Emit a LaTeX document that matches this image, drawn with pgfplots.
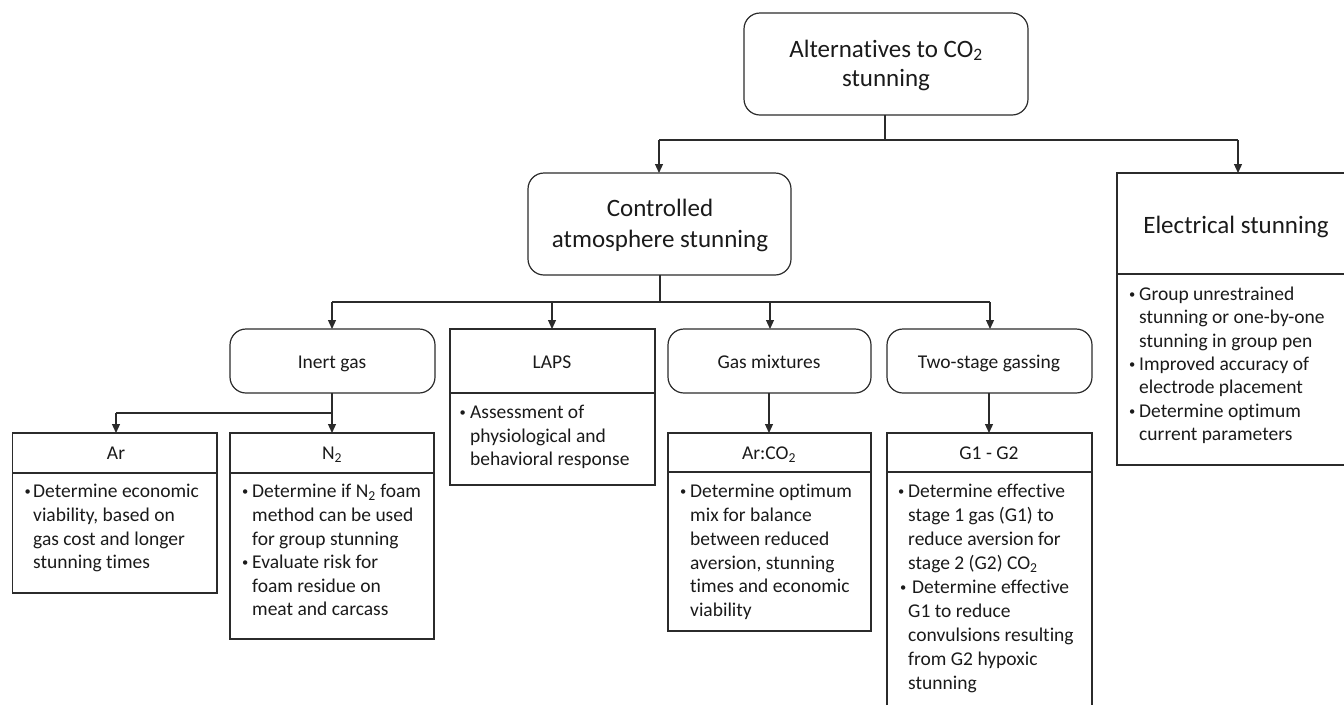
\documentclass[border=0pt]{standalone}
\usepackage{pgfplots}
\pgfplotsset{compat=1.18}
\usepackage{fontspec}
\setmainfont{Carlito}[Ligatures=NoCommon]
\usetikzlibrary{arrows.meta}
\definecolor{ln}{HTML}{2B2B2B}
\definecolor{tx}{HTML}{1A1A1A}
\newcommand\tfont{\fontsize{25}{30}\selectfont}
\newcommand\sfont{\fontsize{19.5}{23.5}\selectfont}
% big centred title line
\newcommand\ttl[3]{\node[anchor=base,inner sep=0pt,font=\tfont,text=tx] at (axis cs:#1,#2) {#3};}
% small centred title line
\newcommand\stl[3]{\node[anchor=base,inner sep=0pt,font=\sfont,text=tx] at (axis cs:#1,#2) {#3};}
% bullet text line (left aligned)
\newcommand\bln[3]{\node[anchor=base west,inner sep=0pt,font=\sfont,text=tx] at (axis cs:#1,#2) {#3};}
% bullet dot (small, as in the source)
\newcommand\bdot[2]{\node[anchor=base west,inner sep=0pt,text=tx] at (axis cs:#1,#2) {\raisebox{1.8pt}{\fontsize{12.5}{12.5}\selectfont\textbullet}};}
\begin{document}
\begin{tikzpicture}
\begin{axis}[name=ax,
  width=1344pt, height=705pt, scale only axis,
  xmin=0, xmax=1344, ymin=0, ymax=705, y dir=reverse,
  hide axis, clip=false]
\tikzset{box/.style={draw=ln,line width=1.2pt},
         rbox/.style={draw=ln,line width=1.2pt,rounded corners=16pt},
         con/.style={draw=ln,line width=1.2pt},
         arr/.style={draw=ln,line width=1.2pt,-{Triangle[length=9pt,width=8pt]}}}

% ---------- boxes ----------
\draw[rbox] (744,13) rectangle (1028,115);
\draw[rbox] (528,173) rectangle (791,275);
\draw[box] (1344,173) -- (1117,173) -- (1117,465) -- (1344,465);
\draw[box] (1117,274) -- (1344,274);

\draw[rbox] (230,329) rectangle (435,393);
\draw[box] (450,329) rectangle (655,485);
\draw[box] (450,393) -- (655,393);
\draw[rbox] (668,329) rectangle (871,393);
\draw[rbox] (887,329) rectangle (1092,393);

\draw[box] (12.7,433) rectangle (217,593);
\draw[box] (12.7,473) -- (217,473);
\draw[box] (230,433) rectangle (434,639);
\draw[box] (230,473) -- (434,473);
\draw[box] (668,433) rectangle (871,631);
\draw[box] (668,472) -- (871,472);
\draw[box] (887,705) -- (887,433) -- (1092,433) -- (1092,705);
\draw[box] (887,472) -- (1092,472);

% ---------- connectors ----------
\draw[con] (885,115) -- (885,140);
\draw[con] (659,140) -- (1238,140);
\draw[arr] (659,140) -- (659,173);
\draw[arr] (1238,140) -- (1238,173);

\draw[con] (660,275) -- (660,302);
\draw[con] (332,302) -- (990,302);
\draw[arr] (332,302) -- (332,329);
\draw[arr] (552,302) -- (552,329);
\draw[arr] (770,302) -- (770,329);
\draw[arr] (990,302) -- (990,329);

\draw[arr] (332,393) -- (332,433);
\draw[con] (116,413) -- (332,413);
\draw[arr] (116,413) -- (116,433);
\draw[arr] (769,393) -- (769,433);
\draw[arr] (989,393) -- (989,433);

% ---------- titles ----------
\ttl{886}{57}{Alternatives to CO\textsubscript{2}}
\ttl{886}{86}{stunning}
\ttl{660}{216}{Controlled}
\ttl{660}{247}{atmosphere stunning}
\ttl{1236}{233}{Electrical stunning}

\stl{332}{368}{Inert gas}
\stl{552}{368}{LAPS}
\stl{769}{368}{Gas mixtures}
\stl{989}{368}{Two-stage gassing}

\stl{116}{459}{Ar}
\stl{332}{459}{N\textsubscript{2}}
\stl{769}{459}{Ar:CO\textsubscript{2}}
\stl{989}{459}{G1 - G2}

% ---------- Electrical stunning ----------
\bdot{1129}{300}
\bln{1139}{300}{Group unrestrained}
\bln{1139}{323}{stunning or one-by-one}
\bln{1139}{347}{stunning in group pen}
\bdot{1129}{370}
\bln{1139}{370}{Improved accuracy of}
\bln{1139}{393}{electrode placement}
\bdot{1129}{417}
\bln{1139}{417}{Determine optimum}
\bln{1139}{440}{current parameters}

% ---------- LAPS ----------
\bdot{459.5}{418}
\bln{470}{418}{Assessment of}
\bln{470}{442}{physiological and}
\bln{470}{465}{behavioral response}

% ---------- Ar ----------
\bdot{24.5}{497}
\bln{33}{497}{Determine economic}
\bln{33}{521}{viability, based on}
\bln{33}{545}{gas cost and longer}
\bln{33}{568}{stunning times}

% ---------- N2 ----------
\bdot{242}{497}
\bln{252}{497}{Determine if N\textsubscript{2} foam}
\bln{252}{521}{method can be used}
\bln{252}{545}{for group stunning}
\bdot{242}{568}
\bln{252}{568}{Evaluate risk for}
\bln{252}{592}{foam residue on}
\bln{252}{615}{meat and carcass}

% ---------- Ar:CO2 ----------
\bdot{680}{497}
\bln{690}{497}{Determine optimum}
\bln{690}{521}{mix for balance}
\bln{690}{545}{between reduced}
\bln{690}{569}{aversion, stunning}
\bln{690}{592}{times and economic}
\bln{690}{616}{viability}

% ---------- G1 - G2 ----------
\bdot{898}{497}
\bln{908}{497}{Determine effective}
\bln{908}{521}{stage 1 gas (G1) to}
\bln{908}{545}{reduce aversion for}
\bln{908}{569}{stage 2 (G2) CO\textsubscript{2}}
\bdot{900}{593}
\bln{912}{593}{Determine effective}
\bln{908}{617}{G1 to reduce}
\bln{908}{641}{convulsions resulting}
\bln{908}{665}{from G2 hypoxic}
\bln{908}{689}{stunning}
\end{axis}
\pgfresetboundingbox
\useasboundingbox (ax.south west) rectangle (ax.north east);
\end{tikzpicture}
\end{document}
